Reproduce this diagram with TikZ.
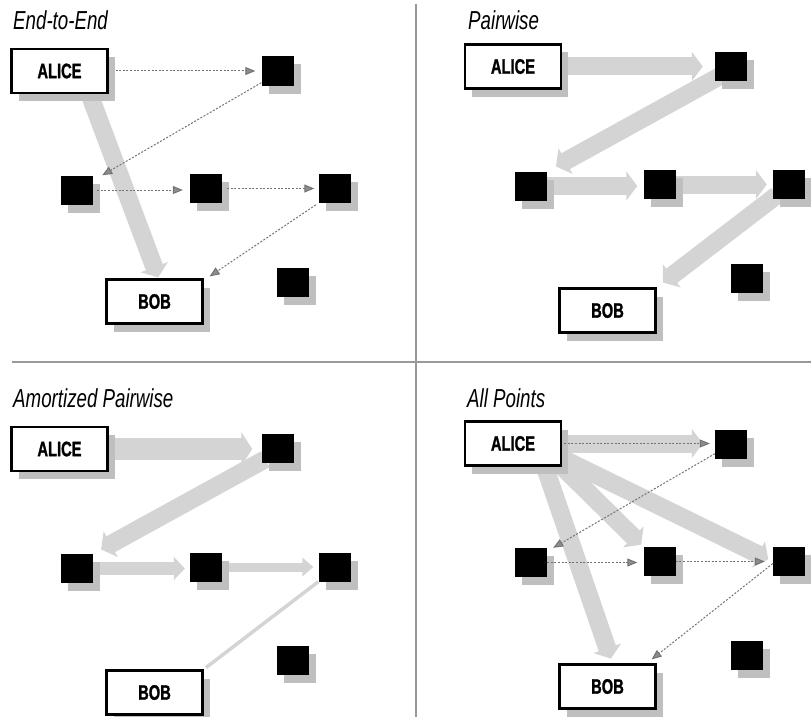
\documentclass[tikz,border=0pt]{standalone}
\usepackage{fontspec}
\newfontfamily\condfont[FakeStretch=0.7, BoldFeatures={FakeBold=1.2}]{Liberation Sans}
\newfontfamily\titlefont[FakeStretch=0.72]{Liberation Sans}
\usetikzlibrary{arrows.meta,shadows,backgrounds,calc}

\tikzset{
  myshadow/.style={drop shadow={shadow xshift=7pt, shadow yshift=-8pt, fill=black!25, opacity=1}},
  person/.style={draw=black, line width=2.2pt, fill=white, minimum width=96pt, minimum height=44pt,
    inner sep=0pt, font=\condfont\bfseries\fontsize{21}{22}\selectfont, myshadow},
  sq/.style={fill=black, minimum width=32pt, minimum height=29pt, inner sep=0pt, myshadow},
  ptitle/.style={anchor=base west, inner sep=0pt, font=\titlefont\itshape\fontsize{26}{27}\selectfont},
  fat/.style={line width=#1, draw=black!17, -{Triangle[length=11pt, width=8pt 1.15, fill=black!17]}},
  fat/.default=18pt,
  dotarrow/.style={draw=black!55, line width=1pt, dash pattern=on 2pt off 1.6pt,
    -{Triangle[length=10pt, width=8pt, fill=black!45]}},
  divider/.style={draw=black!40, line width=1.5pt}
}

\begin{document}
\begin{tikzpicture}[x=1pt,y=-1pt]
\useasboundingbox (0,0) rectangle (811,717);

% dividers
\coordinate (vtop) at (416,4);
\coordinate (vbot) at (416,717);
\coordinate (hl) at (12,362);
\coordinate (hr) at (811,362);
\draw[divider] (vtop) -- (vbot);
\draw[divider] (hl) -- (hr);

% titles
\node[ptitle] (t1) at (13,30) {End-to-End};
\node[ptitle] (t2) at (468,30) {Pairwise};
\node[ptitle] (t3) at (13,407) {Amortized Pairwise};
\node[ptitle] (t4) at (467,407) {All Points};

% ---------- Panel 1 ----------
\node[person] (A1) at (59.5,71) {ALICE};
\node[person] (B1) at (154.5,301.5) {BOB};
\node[sq] (S11) at (277.5,71) {};
\node[sq] (S12) at (77,190) {};
\node[sq] (S13) at (206,188.5) {};
\node[sq] (S14) at (334.5,188.5) {};
\node[sq] (S15) at (293,282.5) {};

% ---------- Panel 2 ----------
\node[person] (A2) at (513,66.5) {ALICE};
\node[person] (B2) at (607.5,310.5) {BOB};
\node[sq] (S21) at (731,66.5) {};
\node[sq] (S22) at (531,186) {};
\node[sq] (S23) at (659.5,184.5) {};
\node[sq] (S24) at (789,184.5) {};
\node[sq] (S25) at (747,278.5) {};

% ---------- Panel 3 ----------
\node[person] (A3) at (59.5,449) {ALICE};
\node[person] (B3) at (154.5,692.5) {BOB};
\node[sq] (S31) at (277.5,448.5) {};
\node[sq] (S32) at (77,568.5) {};
\node[sq] (S33) at (206,567) {};
\node[sq] (S34) at (334.5,567) {};
\node[sq] (S35) at (293,660.5) {};

% ---------- Panel 4 ----------
\node[person] (A4) at (513,443.5) {ALICE};
\node[person] (B4) at (607.5,686.5) {BOB};
\node[sq] (S41) at (731,444) {};
\node[sq] (S42) at (531,562.5) {};
\node[sq] (S43) at (659.5,561.5) {};
\node[sq] (S44) at (789,561.5) {};
\node[sq] (S45) at (747,655) {};

% ---------- thick arrows (background) ----------
\begin{scope}[on background layer]
  % panel 1
  \draw[fat, shorten >=1pt] ([xshift=28pt,yshift=5pt]A1.south) -- ([xshift=4pt]B1.north);
  % panel 2
  \draw[fat, shorten <=-4pt, shorten >=12pt] (A2.east) -- (A2.east -| S21.west);
  \draw[fat, shorten >=10pt] ([xshift=5pt,yshift=5pt]S21.south west) -- (S22.north east);
  \draw[fat, shorten >=6pt] (S22.east) -- (S22.east -| S23.west);
  \draw[fat, shorten >=6pt] (S23.east) -- (S23.east -| S24.west);
  \draw[fat, shorten >=8pt] ([xshift=4pt,yshift=4pt]S24.south west) -- (B2.north east);
  % panel 3
  \draw[fat=22pt, shorten <=-4pt, shorten >=9pt] (A3.east) -- (A3.east -| S31.west);
  \draw[fat=18pt, shorten >=9pt] ([xshift=4pt,yshift=4pt]S31.south west) -- (S32.north east);
  \draw[fat=13pt, shorten >=5pt] (S32.east) -- (S32.east -| S33.west);
  \draw[fat=9pt, shorten >=5pt] (S33.east) -- (S33.east -| S34.west);
  \draw[draw=black!17, line width=3.5pt, shorten >=3pt] (S34.south west) -- (B3.north east);
  % panel 4
  \draw[fat, shorten <=-4pt, shorten >=12pt] (A4.east) -- (A4.east -| S41.west);
  \draw[fat, shorten <=-6pt, shorten >=3pt] (A4.south east) -- (S43.north west);
  \draw[fat, shorten >=5pt] ([xshift=-6pt,yshift=-12pt]A4.east) -- (S44.west);
  \draw[fat, shorten >=5pt] ([xshift=30pt,yshift=5pt]A4.south) -- ([xshift=5pt]B4.north);
\end{scope}

% ---------- dotted arrows ----------
% panel 1
\draw[dotarrow, shorten <=7pt, shorten >=6pt] (A1.east) -- (A1.east -| S11.west);
\draw[dotarrow] ([yshift=3pt]S11.south west) -- ([xshift=9pt]S12.north east);
\draw[dotarrow, shorten <=4pt, shorten >=7pt] (S12.east) -- (S12.east -| S13.west);
\draw[dotarrow, shorten <=5pt, shorten >=4pt] (S13.east) -- (S13.east -| S14.west);
\draw[dotarrow, shorten <=3pt] (S14.south west) -- ([xshift=6pt,yshift=2pt]B1.north east);
% panel 4
\draw[dotarrow, shorten <=2pt, shorten >=5pt] (A4.east) -- (A4.east -| S41.west);
\draw[dotarrow] ([yshift=5pt]S41.south west) -- ([xshift=6pt]S42.north east);
\draw[dotarrow, shorten >=6pt] (S42.east) -- (S42.east -| S43.west);
\draw[dotarrow, shorten >=8pt] (S43.east) -- (S43.east -| S44.west);
\draw[dotarrow] ([yshift=-2pt]S44.west) -- ([xshift=-5pt,yshift=4pt]B4.north east);

\end{tikzpicture}
\end{document}
